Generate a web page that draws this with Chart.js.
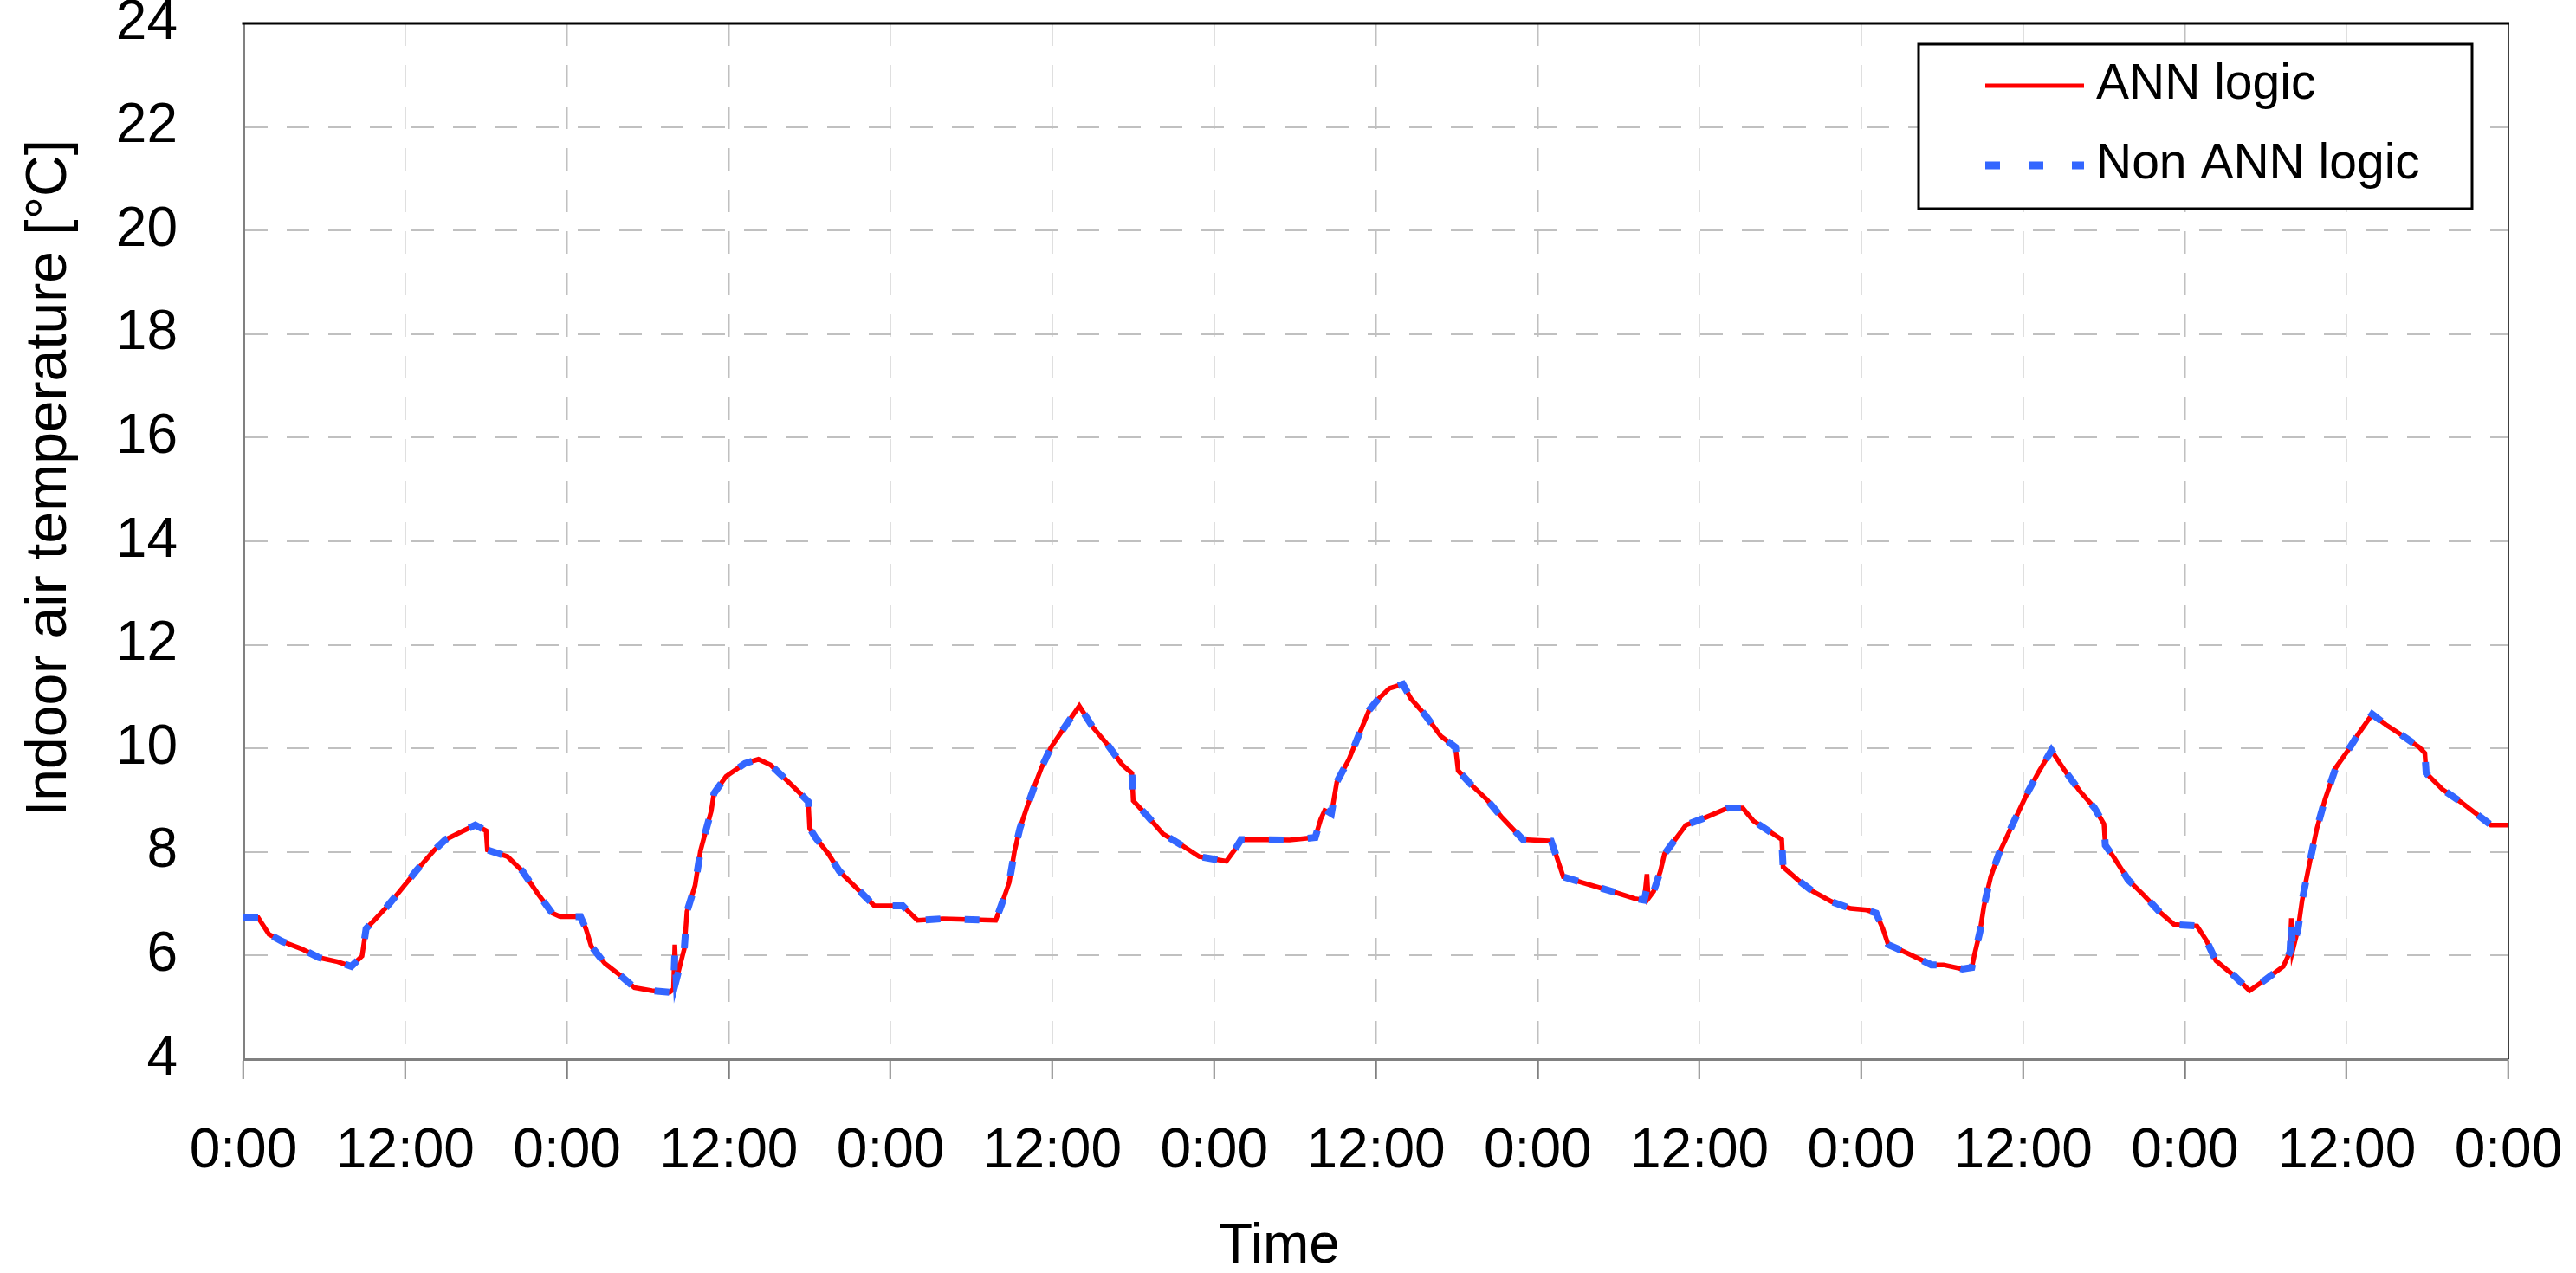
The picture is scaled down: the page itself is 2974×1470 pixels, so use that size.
<!DOCTYPE html>
<html>
<head>
<meta charset="utf-8">
<title>Indoor air temperature</title>
<script src="https://cdn.jsdelivr.net/npm/chart.js@4.4.0/dist/chart.umd.min.js"></script>
<style>
  html, body { margin: 0; padding: 0; background: #fff; }
  canvas { display: block; }
</style>
</head>
<body>
<canvas id="tempChart" width="2974" height="1470"></canvas>
<script>
// Hours since the first midnight (7 days shown)
const hours = [
  0, 1.1, 1.9, 2.9, 4.3, 5.6, 7.0, 8.0, 8.8, 9.1, 9.7, 10.6, 11.5, 12.8, 14.1, 15.0, 16.1, 17.2, 18.0, 18.1,
  19.6, 20.7, 21.8, 22.9, 23.5, 25.0, 25.4, 25.8, 26.8, 27.9, 29.0, 30.3, 31.6, 31.9, 32.0, 32.1, 32.7, 32.9, 33.5, 33.9,
  34.3, 34.7, 34.9, 35.8, 37.2, 38.2, 39.1, 40.2, 41.3, 41.9, 42.0, 42.4, 43.4, 44.2, 45.3, 46.8, 48.9, 50.0, 51.9, 55.8,
  56.2, 56.8, 57.2, 57.6, 58.1, 58.7, 59.2, 59.9, 61.2, 62.0, 63.0, 64.1, 65.2, 65.9, 66.0, 67.1, 68.2, 69.6, 70.9, 72.9,
  73.6, 74.0, 77.6, 79.5, 79.9, 80.2, 80.7, 81.1, 82.0, 82.8, 83.5, 84.2, 85.0, 86.0, 86.6, 87.7, 88.8, 89.9, 90.1, 91.1,
  92.2, 93.3, 94.9, 97.0, 97.4, 97.9, 99.3, 101.5, 103.2, 103.9, 104.1, 104.2, 104.6, 105.1, 105.4, 106.2, 107.0, 108.4, 110.1, 111.2,
  112.0, 113.1, 114.1, 114.2, 115.3, 116.4, 117.8, 119.2, 120.4, 121.1, 121.6, 122.0, 122.7, 124.1, 125.2, 126.1, 127.5, 128.2, 128.4, 128.8,
  129.1, 129.6, 130.2, 131.0, 131.6, 132.3, 133.1, 134.1, 135.1, 136.2, 137.3, 138.0, 138.1, 138.7, 139.8, 140.9, 142.1, 143.2, 144.9, 145.6,
  146.3, 147.7, 148.8, 149.9, 151.3, 151.8, 151.9, 152.0, 152.4, 152.7, 153.3, 153.8, 154.4, 155.2, 156.1, 156.9, 157.9, 158.9, 160.0, 161.4,
  161.8, 161.9, 163.1, 164.5, 165.9, 166.7, 168
];

const annLogic = [
  6.73, 6.73, 6.41, 6.27, 6.13, 5.96, 5.88, 5.79, 5.99, 6.52, 6.68, 6.93, 7.21, 7.63, 8.02, 8.24, 8.38, 8.52, 8.41, 8.04,
  7.91, 7.63, 7.21, 6.82, 6.75, 6.75, 6.52, 6.18, 5.85, 5.63, 5.38, 5.32, 5.29, 5.35, 6.21, 5.52, 6.13, 6.85, 7.35, 8.02,
  8.41, 8.79, 9.13, 9.46, 9.71, 9.79, 9.68, 9.41, 9.13, 8.97, 8.46, 8.29, 7.96, 7.63, 7.35, 6.96, 6.96, 6.68, 6.71, 6.68,
  6.96, 7.41, 8.02, 8.46, 8.85, 9.29, 9.63, 10.02, 10.52, 10.82, 10.41, 10.07, 9.68, 9.52, 8.99, 8.68, 8.35, 8.13, 7.91, 7.82,
  8.07, 8.24, 8.23, 8.28, 8.63, 8.80, 8.74, 9.35, 9.79, 10.30, 10.74, 10.96, 11.16, 11.24, 10.96, 10.63, 10.24, 10.02, 9.57, 9.29,
  9.02, 8.68, 8.24, 8.21, 7.91, 7.52, 7.41, 7.24, 7.10, 7.07, 7.57, 7.10, 7.24, 7.63, 7.96, 8.24, 8.52, 8.66, 8.85, 8.85,
  8.60, 8.41, 8.24, 7.71, 7.46, 7.24, 7.04, 6.91, 6.88, 6.82, 6.52, 6.21, 6.13, 5.96, 5.82, 5.82, 5.74, 5.77, 6.02, 6.46,
  6.96, 7.52, 7.96, 8.41, 8.74, 9.13, 9.52, 9.96, 9.57, 9.18, 8.85, 8.54, 8.13, 7.91, 7.46, 7.18, 6.85, 6.60, 6.57, 6.29,
  5.90, 5.60, 5.32, 5.52, 5.79, 6.07, 6.72, 6.10, 6.52, 7.07, 7.85, 8.46, 9.02, 9.63, 9.96, 10.29, 10.66, 10.46, 10.27, 10.02,
  9.91, 9.52, 9.21, 8.96, 8.68, 8.52, 8.52
];

const nonAnnLogic = [
  6.73, 6.73, 6.41, 6.27, 6.13, 5.96, 5.88, 5.79, 5.99, 6.52, 6.68, 6.93, 7.21, 7.63, 8.02, 8.24, 8.38, 8.52, 8.41, 8.04,
  7.91, 7.63, 7.21, 6.82, 6.75, 6.75, 6.52, 6.18, 5.85, 5.63, 5.38, 5.32, 5.29, 5.35, 6.05, 5.52, 6.13, 6.85, 7.35, 8.02,
  8.41, 8.79, 9.13, 9.46, 9.71, 9.79, 9.68, 9.41, 9.13, 8.97, 8.46, 8.29, 7.96, 7.63, 7.35, 6.96, 6.96, 6.68, 6.71, 6.68,
  6.96, 7.41, 8.02, 8.46, 8.85, 9.29, 9.63, 10.02, 10.52, 10.82, 10.41, 10.07, 9.68, 9.52, 8.99, 8.68, 8.35, 8.13, 7.91, 7.82,
  8.07, 8.24, 8.23, 8.28, 8.63, 8.82, 8.74, 9.35, 9.79, 10.30, 10.74, 10.96, 11.16, 11.24, 10.96, 10.63, 10.24, 10.02, 9.57, 9.29,
  9.02, 8.68, 8.24, 8.21, 7.91, 7.52, 7.41, 7.24, 7.10, 7.07, 7.30, 7.10, 7.24, 7.63, 7.96, 8.24, 8.52, 8.66, 8.85, 8.85,
  8.60, 8.41, 8.24, 7.71, 7.46, 7.24, 7.04, 6.91, 6.88, 6.82, 6.52, 6.21, 6.13, 5.96, 5.82, 5.82, 5.74, 5.77, 6.02, 6.46,
  6.96, 7.52, 7.96, 8.41, 8.74, 9.13, 9.52, 9.96, 9.57, 9.18, 8.85, 8.54, 8.13, 7.91, 7.46, 7.18, 6.85, 6.60, 6.57, 6.29,
  5.90, 5.60, 5.32, 5.52, 5.79, 6.07, 6.65, 6.10, 6.52, 7.07, 7.85, 8.46, 9.02, 9.63, 9.96, 10.29, 10.66, 10.46, 10.27, 10.02,
  9.91, 9.52, 9.21, 8.96, 8.68, 8.52, 8.52
];

const xTickLabels = [
  "0:00", "12:00", "0:00", "12:00", "0:00", "12:00", "0:00", "12:00",
  "0:00", "12:00", "0:00", "12:00", "0:00", "12:00", "0:00"
];

const FONT = '"Liberation Sans", Arial, Helvetica, sans-serif';
Chart.defaults.font.family = FONT;
Chart.defaults.color = "#000";

const toPoints = (values) => hours.map((h, i) => ({ x: h, y: values[i] }));

// hide the dashed grid line where it sits on the axis / frame
const innerGrid = (color) => (ctx) =>
  ctx.index === 0 || ctx.index === ctx.scale.ticks.length - 1 ? "rgba(0,0,0,0)" : color;

// frame, legend box and axis titles (titles are offset like the original)
const extras = {
  id: "extras",
  afterDraw(chart) {
    const { ctx, chartArea: a } = chart;
    ctx.save();

    ctx.strokeStyle = "#000";
    ctx.lineWidth = 3;
    ctx.beginPath();
    ctx.moveTo(a.left - 1.5, a.top);
    ctx.lineTo(a.right + 1, a.top);
    ctx.stroke();
    ctx.lineWidth = 1.5;
    ctx.beginPath();
    ctx.moveTo(a.right, a.top);
    ctx.lineTo(a.right, a.bottom);
    ctx.stroke();

    // legend
    const ds = chart.data.datasets;
    ctx.fillStyle = "#fff";
    ctx.fillRect(2215, 51, 639, 190);
    ctx.lineWidth = 3;
    ctx.strokeStyle = "#000";
    ctx.strokeRect(2215, 51, 639, 190);

    const rows = [99, 191];
    ds.forEach((d, i) => {
      ctx.save();
      ctx.strokeStyle = d.borderColor;
      ctx.lineWidth = i === 0 ? 5 : 9;
      ctx.setLineDash(i === 0 ? [] : [17, 33]);
      ctx.beginPath();
      ctx.moveTo(2292, rows[i]);
      ctx.lineTo(2406, rows[i]);
      ctx.stroke();
      ctx.restore();

      ctx.fillStyle = "#000";
      ctx.font = "57px " + FONT;
      ctx.textAlign = "left";
      ctx.textBaseline = "middle";
      ctx.fillText(d.label, 2420, rows[i] - 1);
    });

    // axis titles
    ctx.fillStyle = "#000";
    ctx.font = "64px " + FONT;
    ctx.textAlign = "center";
    ctx.textBaseline = "alphabetic";
    ctx.fillText("Time", 1477, 1458);

    ctx.font = "66px " + FONT;
    ctx.translate(76, 552);
    ctx.rotate(-Math.PI / 2);
    ctx.fillText("Indoor air temperature [°C]", 0, 0);

    ctx.restore();
  }
};

new Chart(document.getElementById("tempChart"), {
  type: "line",
  data: {
    datasets: [
      {
        label: "ANN logic",
        data: toPoints(annLogic),
        borderColor: "#ff0000",
        borderWidth: 5.5,
        pointRadius: 0,
        tension: 0,
        order: 1
      },
      {
        label: "Non ANN logic",
        data: toPoints(nonAnnLogic),
        borderColor: "#3366ff",
        borderWidth: 8,
        borderDash: [17, 28],
        pointRadius: 0,
        tension: 0,
        order: 0
      }
    ]
  },
  options: {
    responsive: false,
    devicePixelRatio: 1,
    animation: false,
    layout: { padding: { left: 0, top: 27, right: 78, bottom: 0 } },
    plugins: {
      legend: { display: false },
      tooltip: { enabled: false }
    },
    scales: {
      x: {
        type: "linear",
        min: 0,
        max: 168,
        afterFit(scale) {
          scale.height = 247;
          scale.paddingLeft = 0;
          scale.paddingRight = 0;
        },
        ticks: {
          stepSize: 12,
          autoSkip: false,
          maxRotation: 0,
          padding: 46,
          font: { size: 64, lineHeight: 1.2 },
          callback: (value, index) => xTickLabels[index]
        },
        grid: {
          color: innerGrid("#c0c0c0"),
          lineWidth: 1.5,
          tickLength: 23,
          tickColor: "#808080",
          tickWidth: 2
        },
        border: { color: "#808080", width: 3, dash: [26, 22] }
      },
      y: {
        min: 4,
        max: 24,
        afterFit(scale) {
          scale.width = 281;
          scale.paddingTop = 0;
          scale.paddingBottom = 0;
        },
        ticks: {
          stepSize: 2,
          padding: 76,
          font: { size: 64 }
        },
        grid: {
          color: innerGrid("#c0c0c0"),
          lineWidth: 2,
          drawTicks: false
        },
        border: { color: "#808080", width: 3, dash: [26, 22] }
      }
    }
  },
  plugins: [extras]
});
</script>
</body>
</html>
